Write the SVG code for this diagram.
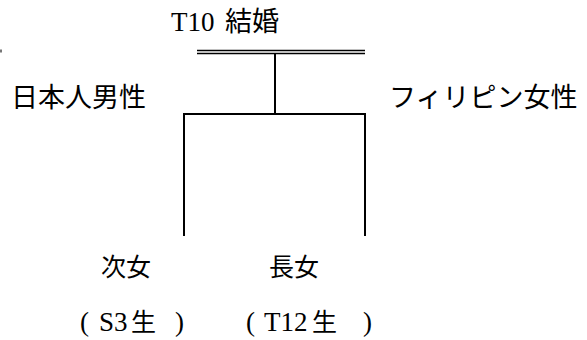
<svg xmlns="http://www.w3.org/2000/svg" width="587" height="340" viewBox="0 0 587 340">
<style>
.ln{stroke:#000;stroke-width:2;fill:none}
.dl{stroke:#000;stroke-width:1.6;fill:none}
.cjk{font-family:"Noto Sans CJK JP","Noto Sans CJK SC",sans-serif;font-size:27px;fill:#000}
.ser{font-family:"Liberation Serif","Noto Sans CJK JP",serif;font-size:27px;fill:#000}
.sm{font-size:25px}
</style>
<rect width="587" height="340" fill="#fff"/>
<rect x="0" y="49.5" width="2" height="3" fill="#777"/>
<g id="connectors">
<line class="dl" x1="197" y1="50.5" x2="365" y2="50.5"/>
<line class="dl" x1="197" y1="53.5" x2="365" y2="53.5"/>
<line class="ln" x1="275" y1="54" x2="275" y2="114"/>
<polyline class="ln" points="184,236 184,114 365,114 365,236"/>
</g>
<g id="marriage"><text class="ser" x="171" y="31">T10<tspan class="cjk" x="225">結婚</tspan></text></g>
<g id="father"><text class="cjk" x="11" y="107">日本人男性</text></g>
<g id="mother"><text class="cjk" x="389" y="107">フィリピン女性</text></g>
<g id="daughter2"><text class="cjk sm" x="101" y="276">次女</text>
<text class="ser" y="331"><tspan x="80">(</tspan><tspan x="99">S3</tspan><tspan class="cjk sm" x="131">生</tspan><tspan x="175">)</tspan></text></g>
<g id="daughter1"><text class="cjk sm" x="269" y="276">長女</text>
<text class="ser" y="331"><tspan x="246">(</tspan><tspan x="264">T12</tspan><tspan class="cjk sm" x="312">生</tspan><tspan x="363">)</tspan></text></g>
</svg>
